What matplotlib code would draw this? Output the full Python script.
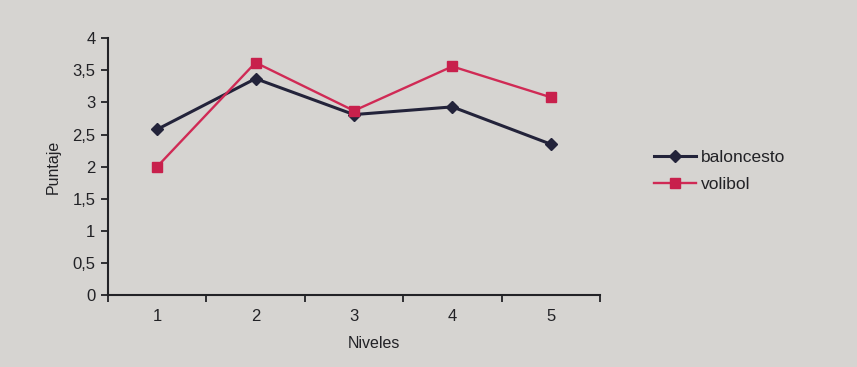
import matplotlib
matplotlib.use('Agg')
import matplotlib.pyplot as plt
import numpy as np

niveles = [1, 2, 3, 4, 5]
baloncesto = [2.58, 3.37, 2.81, 2.93, 2.35]
volibol = [2.0, 3.62, 2.87, 3.56, 3.08]
yticks = [0, 0.5, 1, 1.5, 2, 2.5, 3, 3.5, 4]
ytick_labels = ['0', '0,5', '1', '1,5', '2', '2,5', '3', '3,5', '4']

plt.rcParams['font.family'] = ['Liberation Sans', 'DejaVu Sans']

paper = '#d6d4d1'
ink = '#222226'

fig = plt.figure(figsize=(8.57, 3.67), dpi=100, facecolor=paper)
ax = fig.add_axes([0.126, 0.196, 0.574, 0.70])
ax.set_facecolor(paper)

ax.plot(niveles, baloncesto, color='#23233a', lw=2.2, marker='D', ms=6,
        mfc='#23233a', mec='#23233a', label='baloncesto')
ax.plot(niveles, volibol, color='#d02a55', lw=1.7, marker='s', ms=7.5,
        mfc='#c8204c', mec='#c8204c', label='volibol')

ax.set_xlim(0.5, 5.5)
ax.set_ylim(0, 4)
ax.set_yticks(yticks)
ax.set_yticklabels(ytick_labels)
ax.set_xticks(niveles)
ax.set_xticks(np.arange(0.5, 6.0, 1.0), minor=True)
ax.tick_params(axis='x', which='major', length=0, pad=10, labelsize=12, colors=ink)
ax.tick_params(axis='x', which='minor', length=5, width=1.3, direction='out', color=ink)
ax.tick_params(axis='y', length=5, width=1.3, direction='out', labelsize=12, colors=ink, pad=4)

for side in ['top', 'right']:
    ax.spines[side].set_visible(False)
for side in ['left', 'bottom']:
    ax.spines[side].set_color(ink)
    ax.spines[side].set_linewidth(1.5)

ax.set_ylabel('Puntaje', fontsize=11.5, color=ink, labelpad=8)
ax.set_xlabel('Niveles', fontsize=11.5, color=ink, labelpad=13)
ax.xaxis.set_label_coords(0.54, -0.16)

leg = fig.legend(loc='upper left', bbox_to_anchor=(0.745, 0.635), frameon=False,
                 fontsize=12.5, handlelength=2.4, labelspacing=0.7, handletextpad=0.3)
for t in leg.get_texts():
    t.set_color(ink)

fig.savefig('out.png', dpi=100, facecolor=paper)
